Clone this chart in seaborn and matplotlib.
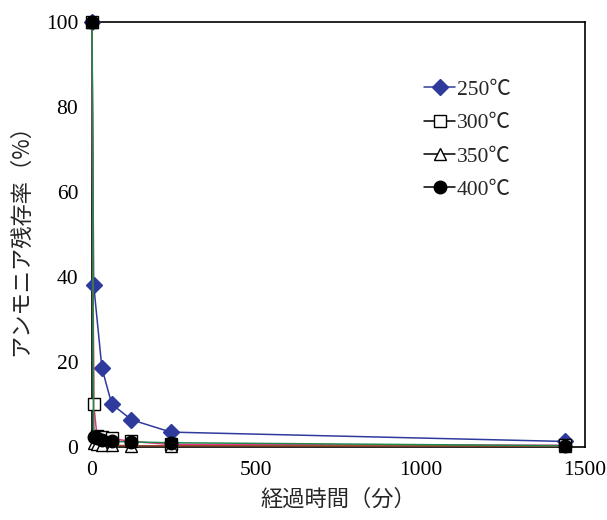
import matplotlib
matplotlib.use("Agg")
import matplotlib.pyplot as plt
import seaborn as sns
import pandas as pd
from matplotlib.lines import Line2D

sns.set_style("white")
plt.rcParams['font.family'] = ['Liberation Serif', 'Noto Sans CJK JP', 'DejaVu Sans']

# data
t_250 = [0, 5, 30, 60, 120, 240, 1440]
v_250 = [100, 38.2, 18.6, 10.1, 6.4, 3.5, 1.3]
t_300 = [0, 5, 15, 30, 60, 120, 240, 1440]
v_300 = [100, 10.2, 2.6, 2.3, 2.0, 1.3, 0.6, 0.4]
t_350 = [0, 5, 15, 30, 60, 120, 240, 1440]
v_350 = [100, 1.0, 0.6, 0.5, 0.4, 0.3, 0.3, 0.2]
t_400 = [0, 5, 15, 30, 60, 120, 240, 1440]
v_400 = [100, 2.3, 2.0, 1.6, 1.3, 1.2, 1.0, 0.3]
labels = ['250℃', '300℃', '350℃', '400℃']

fig = plt.figure(figsize=(6.07, 5.2), dpi=100)
ax = fig.add_axes([0.1516, 0.1404, 0.8122, 0.8173])

series = [
    (t_250, v_250, '#2e3a9c', 'D', '#2e3a9c', '#2e3a9c'),
    (t_300, v_300, '#e8328c', 's', 'white', 'black'),
    (t_350, v_350, '#9b4a2a', '^', 'white', 'black'),
    (t_400, v_400, '#1f8a4c', 'o', 'black', 'black'),
]
for t, v, lc, m, mfc, mec in series:
    df = pd.DataFrame({'t': t, 'v': v})
    sns.lineplot(data=df, x='t', y='v', ax=ax, color=lc, lw=1.1,
                 marker=m, markersize=9 if m != 'D' else 8,
                 markerfacecolor=mfc, markeredgecolor=mec, markeredgewidth=1.0,
                 sort=False, legend=False, clip_on=False, zorder=3)

ax.set_xlim(0, 1500)
ax.set_ylim(0, 100)
ax.set_xticks([0, 500, 1000, 1500])
ax.set_yticks([0, 20, 40, 60, 80, 100])
ax.tick_params(direction='in', length=4, width=1, labelsize=15.5, colors='black', pad=10)
for s in ax.spines.values():
    s.set_color('black')
    s.set_linewidth(1.2)

ax.set_xlabel('経過時間（分）', fontsize=16, family=['Noto Sans CJK JP'], labelpad=6)
ax.set_ylabel('アンモニア残存率（%）', fontsize=16, family=['Noto Sans CJK JP'], labelpad=10)

handles = [
    Line2D([], [], color='#2e3a9c', lw=1.1, marker='D', markersize=8,
           markerfacecolor='#2e3a9c', markeredgecolor='#2e3a9c'),
    Line2D([], [], color='black', lw=1.1, marker='s', markersize=9,
           markerfacecolor='white', markeredgecolor='black'),
    Line2D([], [], color='black', lw=1.1, marker='^', markersize=9,
           markerfacecolor='white', markeredgecolor='black'),
    Line2D([], [], color='black', lw=1.1, marker='o', markersize=9,
           markerfacecolor='black', markeredgecolor='black'),
]
ax.legend(handles, labels, loc='upper left', bbox_to_anchor=(0.635, 0.91),
          frameon=False, fontsize=15.5, handlelength=1.4, handletextpad=0.1,
          labelspacing=0.62)

fig.savefig('out.png', dpi=100)
